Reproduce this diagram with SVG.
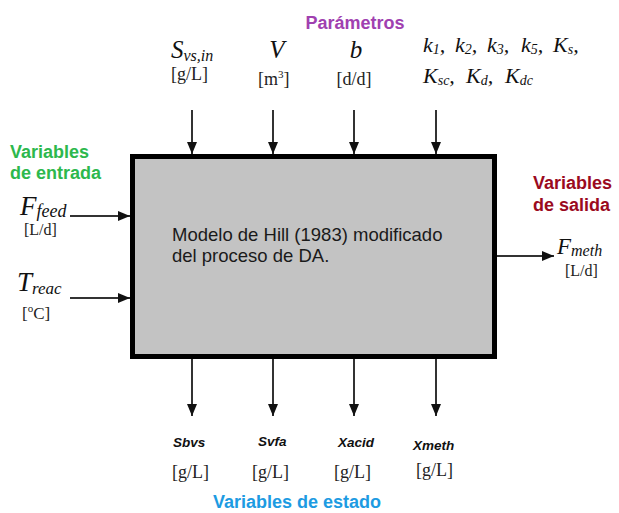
<svg xmlns="http://www.w3.org/2000/svg" width="619" height="513" viewBox="0 0 619 513">
<style>
.sym{font-family:"Liberation Serif",serif;font-style:italic;fill:#111}
.unit{font-family:"Liberation Serif",serif;fill:#222}
.hdr{font-family:"Liberation Sans",Arial,sans-serif;font-weight:bold;font-size:18px}
.st{font-family:"Liberation Sans",Arial,sans-serif;font-weight:bold;font-style:italic;font-size:13.5px;fill:#111}
.conn{stroke:#333;stroke-width:2;fill:none;marker-end:url(#ah)}
</style>
<defs>
<marker id="ah" markerUnits="userSpaceOnUse" markerWidth="12" markerHeight="10" refX="12" refY="5" orient="auto">
<path d="M0,0 L12,5 L0,10 Z" fill="#111"/>
</marker>
</defs>
<rect width="619" height="513" fill="#fff"/>

<g id="process">
<rect x="132.5" y="156.5" width="362" height="200" fill="#c3c3c3" stroke="#000" stroke-width="5"/>
<text font-family="Liberation Sans,Arial,sans-serif" font-size="18.5" fill="#1a1a1a"><tspan x="172" y="241">Modelo de Hill (1983) modificado</tspan><tspan x="172" y="262">del proceso de DA.</tspan></text>
</g>

<g id="connectors">
<line class="conn" x1="192" y1="110" x2="192" y2="154"/>
<line class="conn" x1="273" y1="110" x2="273" y2="154"/>
<line class="conn" x1="354" y1="110" x2="354" y2="154"/>
<line class="conn" x1="436" y1="110" x2="436" y2="154"/>
<line class="conn" x1="192" y1="359" x2="192" y2="416"/>
<line class="conn" x1="273" y1="359" x2="273" y2="416"/>
<line class="conn" x1="354" y1="359" x2="354" y2="416"/>
<line class="conn" x1="436" y1="359" x2="436" y2="416"/>
<line class="conn" x1="70" y1="216" x2="130" y2="216"/>
<line class="conn" x1="70" y1="298" x2="130" y2="298"/>
<line class="conn" x1="497" y1="256" x2="554" y2="256"/>
</g>

<g id="parametros">
<text class="hdr" x="355" y="29" text-anchor="middle" fill="#a040b0">Parámetros</text>
<text class="sym" x="171" y="58" font-size="25">S<tspan font-size="16" dy="3">vs,in</tspan></text>
<text class="unit" x="171" y="80" font-size="18">[g/L]</text>
<text class="sym" x="277" y="58" font-size="25" text-anchor="middle">V</text>
<text class="unit" x="258" y="85" font-size="18">[m<tspan font-size="11" dy="-7">3</tspan><tspan dy="7">]</tspan></text>
<text class="sym" x="356" y="58" font-size="25" text-anchor="middle">b</text>
<text class="unit" x="354" y="85" font-size="18" text-anchor="middle">[d/d]</text>
<g class="sym" font-size="22">
<text x="423" y="52">k<tspan font-size="14" dy="2">1</tspan><tspan dy="-2">,</tspan></text>
<text x="455" y="52">k<tspan font-size="14" dy="2">2</tspan><tspan dy="-2">,</tspan></text>
<text x="487" y="52">k<tspan font-size="14" dy="2">3</tspan><tspan dy="-2">,</tspan></text>
<text x="521" y="52">k<tspan font-size="14" dy="2">5</tspan><tspan dy="-2">,</tspan></text>
<text x="553" y="52">K<tspan font-size="14" dy="2">s</tspan><tspan dy="-2">,</tspan></text>
<text x="423" y="83">K<tspan font-size="14" dy="2">sc</tspan><tspan dy="-2">,</tspan></text>
<text x="466" y="83">K<tspan font-size="14" dy="2">d</tspan><tspan dy="-2">,</tspan></text>
<text x="505" y="83">K<tspan font-size="14" dy="2">dc</tspan></text>
</g>
</g>

<g id="entrada">
<text class="hdr" fill="#2db84d"><tspan x="10" y="158">Variables</tspan><tspan x="10" y="179">de entrada</tspan></text>
<text class="sym" x="20" y="215" font-size="27">F<tspan font-size="18" dy="2">feed</tspan></text>
<text class="unit" x="24" y="235" font-size="16">[L/d]</text>
<text class="sym" x="17" y="291" font-size="27">T<tspan font-size="17" dy="3">reac</tspan></text>
<text class="unit" x="22" y="319" font-size="17">[<tspan font-size="11" dy="-7">o</tspan><tspan dy="7">C]</tspan></text>
</g>

<g id="salida">
<text class="hdr" fill="#9b0a1e"><tspan x="533" y="189">Variables</tspan><tspan x="533" y="211">de salida</tspan></text>
<text class="sym" x="557" y="254" font-size="23">F<tspan font-size="16" dy="2">meth</tspan></text>
<text class="unit" x="565" y="276" font-size="16">[L/d]</text>
</g>

<g id="estado">
<text class="st" x="173" y="447">Sbvs</text>
<text class="st" x="258" y="446">Svfa</text>
<text class="st" x="338" y="447">Xacid</text>
<text class="st" x="413" y="450">Xmeth</text>
<text class="unit" x="172" y="478" font-size="18">[g/L]</text>
<text class="unit" x="252" y="478" font-size="18">[g/L]</text>
<text class="unit" x="334" y="478" font-size="18">[g/L]</text>
<text class="unit" x="416" y="476" font-size="18">[g/L]</text>
<text class="hdr" x="297" y="508" text-anchor="middle" fill="#1d9be2">Variables de estado</text>
</g>
</svg>
